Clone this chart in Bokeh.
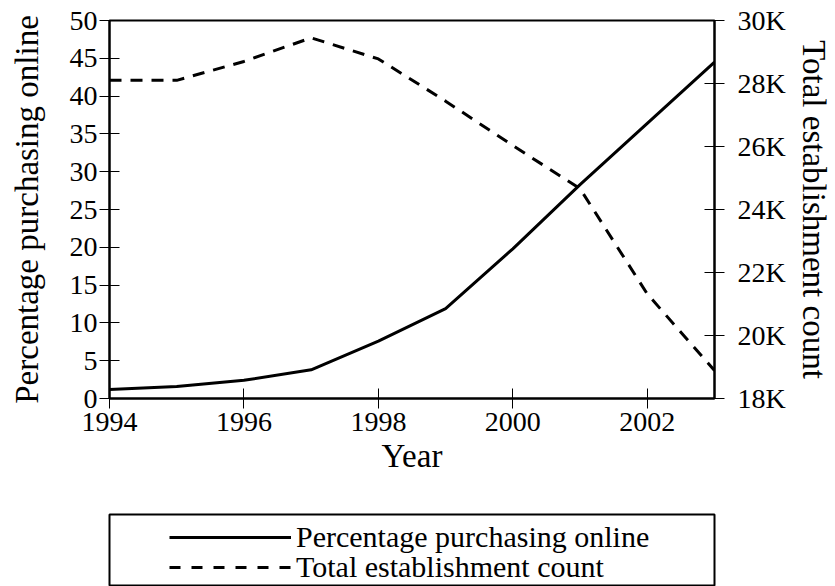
from bokeh.plotting import figure
from bokeh.models import (Range1d, LinearAxis, SingleIntervalTicker, CustomJSTickFormatter,
                          Legend, LegendItem)
from bokeh.layouts import column
from bokeh.embed import file_html
from bokeh.resources import INLINE

years = [1994, 1995, 1996, 1997, 1998, 1999, 2000, 2001, 2002, 2003]
pct_online = [1.2, 1.6, 2.4, 3.8, 7.6, 11.9, 19.8, 28.3, 36.4, 44.5]
establishments = [28100, 28100, 28700, 29450, 28780, 27440, 26030, 24660, 21320, 18890]
series_labels = ["Percentage purchasing online", "Total establishment count"]

FONT = "Liberation Serif"
TICK_FS = "28px"
LABEL_FS = "33px"
LEGEND_FS = "30px"

p = figure(width=835, height=500, output_backend="svg", toolbar_location=None,
           x_range=Range1d(1994, 2003), y_range=Range1d(0, 50),
           min_border_left=109, min_border_right=121, min_border_top=20, min_border_bottom=102)
p.extra_y_ranges = {"est": Range1d(18000, 30000)}
p.xgrid.visible = False
p.ygrid.visible = False
p.outline_line_color = "black"
p.outline_line_width = 2
p.outline_line_alpha = 1

p.line(years, pct_online, line_color="black", line_width=3)
p.line(years, establishments, line_color="black", line_width=3, line_dash="12 9",
       y_range_name="est")

raxis = LinearAxis(y_range_name="est", axis_label=series_labels[1])
p.add_layout(raxis, "right")

p.xaxis.ticker = SingleIntervalTicker(interval=2)
p.yaxis[0].ticker = SingleIntervalTicker(interval=5)
raxis.ticker = SingleIntervalTicker(interval=2000)
raxis.formatter = CustomJSTickFormatter(code="return (tick/1000).toFixed(0) + 'K';")
p.xaxis.axis_label = "Year"
p.yaxis[0].axis_label = series_labels[0]

for ax in p.xaxis + p.yaxis:
    ax.axis_line_width = 2
    ax.axis_line_color = "black"
    ax.major_tick_line_color = "black"
    ax.major_tick_line_width = 1
    ax.major_tick_in = 10
    ax.major_tick_out = 10
    ax.minor_tick_line_color = None
    ax.major_label_text_font = FONT
    ax.major_label_text_font_size = TICK_FS
    ax.major_label_text_color = "black"
    ax.axis_label_text_font = FONT
    ax.axis_label_text_font_size = LABEL_FS
    ax.axis_label_text_font_style = "normal"
    ax.axis_label_text_color = "black"

p.xaxis.major_label_standoff = 4
p.xaxis.axis_label_standoff = 4
p.yaxis[0].major_label_standoff = 2
p.yaxis[0].axis_label_standoff = 22
raxis.major_label_standoff = 13
raxis.axis_label_standoff = 7

# legend panel below the chart
p2 = figure(width=835, height=86, output_backend="svg", toolbar_location=None,
            x_range=Range1d(0, 1), y_range=Range1d(0, 1),
            x_axis_location=None, y_axis_location=None,
            min_border_left=109, min_border_right=121, min_border_top=14, min_border_bottom=0)
p2.xgrid.visible = False
p2.ygrid.visible = False
p2.outline_line_color = "black"
p2.outline_line_width = 2
r1 = p2.line([-10, -9], [-10, -9], line_color="black", line_width=3)
r2 = p2.line([-10, -9], [-10, -9], line_color="black", line_width=3, line_dash="11 11")

for lbl, rend, loc in [(series_labels[0], r1, (60, 32)), (series_labels[1], r2, (60, 2))]:
    leg = Legend(items=[LegendItem(label=lbl, renderers=[rend])],
                 location=loc, orientation="vertical",
                 border_line_alpha=0, background_fill_alpha=0,
                 padding=0, margin=0, spacing=0,
                 glyph_width=122, glyph_height=30, label_height=30, label_standoff=5,
                 label_text_font=FONT, label_text_font_size=LEGEND_FS, label_text_color="black")
    p2.add_layout(leg)

layout = column(p, p2, spacing=0)
open("out.html", "w").write(file_html(layout, INLINE))
